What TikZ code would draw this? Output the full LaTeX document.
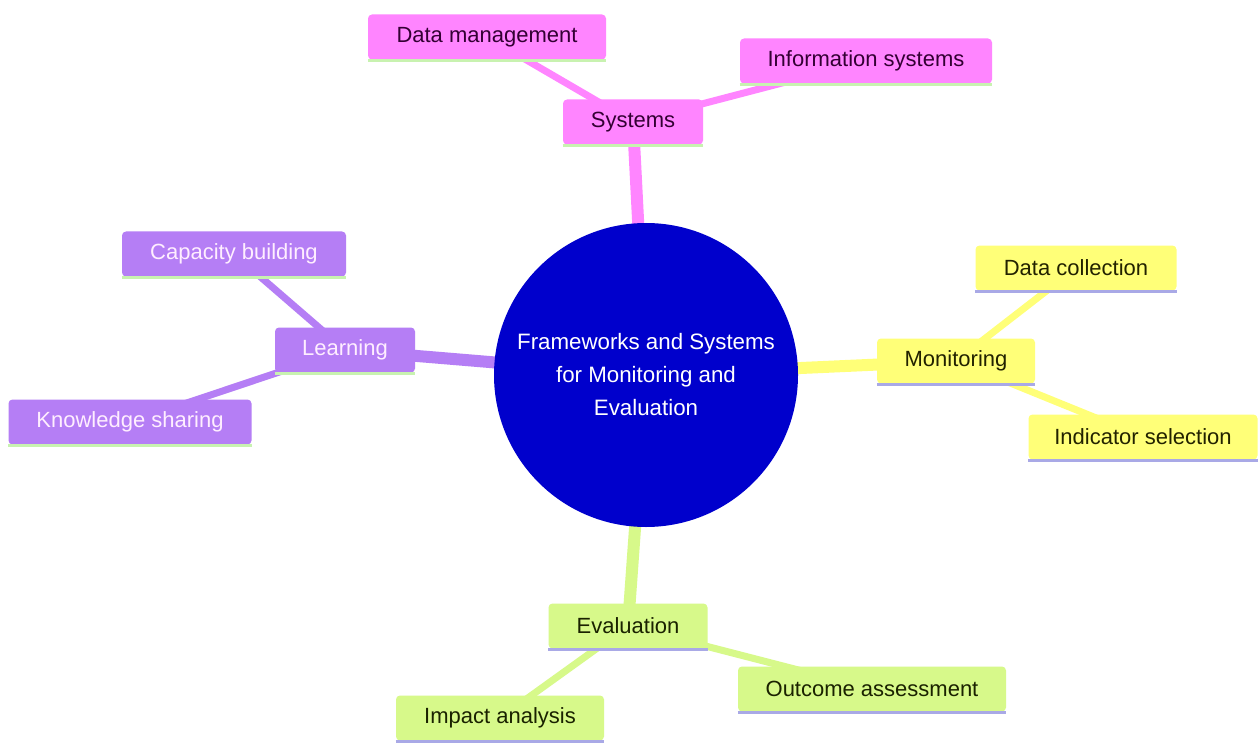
\documentclass[tikz,border=0pt]{standalone}
\usepackage{fontspec}
\setmainfont{Liberation Sans}
\pgfdeclarelayer{bottom}
\pgfdeclarelayer{background}
\pgfsetlayers{bottom,background,main}
\definecolor{pinkF}{HTML}{FF85FF}
\definecolor{pinkT}{HTML}{330033}
\definecolor{purpF}{HTML}{B57EF5}
\definecolor{purpT}{HTML}{FFEEFF}
\definecolor{yelF}{HTML}{FFFF78}
\definecolor{yelT}{HTML}{222200}
\definecolor{limF}{HTML}{D7F98A}
\definecolor{limT}{HTML}{1A2200}
\definecolor{ulGreen}{HTML}{C8F2B0}
\definecolor{ulLav}{HTML}{A9A9E6}
\definecolor{rootF}{HTML}{0000CC}
\tikzset{
  box/.style={rounded corners=4pt, minimum height=45pt, inner sep=0pt,
    font=\fontsize{22}{26}\selectfont},
  pinkbox/.style={box, fill=pinkF, text=pinkT},
  purpbox/.style={box, fill=purpF, text=purpT},
  yelbox/.style={box, fill=yelF, text=yelT},
  limbox/.style={box, fill=limF, text=limT},
  mainedge/.style={line width=12pt},
  subedge/.style={line width=7pt},
  ul/.style={line width=3pt}
}
\begin{document}
\begin{tikzpicture}[x=1pt,y=-1pt]
\begin{pgfonlayer}{bottom}
\fill[white] (0,0) rectangle (1258,746);
\end{pgfonlayer}
\useasboundingbox (0,0) rectangle (1258,746);
% root
\node[circle, fill=rootF, minimum size=304pt, text=white, align=center,
  font=\fontsize{22.3}{33}\selectfont] (root) at (646,375)
  {Frameworks and Systems\\for Monitoring and\\Evaluation};
% systems
\node[pinkbox, minimum width=140pt] (sys) at (633,122) {Systems};
\node[pinkbox, minimum width=238pt] (dm) at (487,37) {Data management};
\node[pinkbox, minimum width=252pt] (is) at (866,61) {Information systems};
% monitoring
\node[yelbox, minimum width=158pt] (mon) at (956,361) {Monitoring};
\node[yelbox, minimum width=201pt] (dc) at (1076,268) {Data collection};
\node[yelbox, minimum width=229pt] (ind) at (1143,437) {Indicator selection};
% learning
\node[purpbox, minimum width=140pt] (lea) at (345,350) {Learning};
\node[purpbox, minimum width=224pt] (cap) at (234,254) {Capacity building};
\node[purpbox, minimum width=243pt] (ks) at (130,422) {Knowledge sharing};
% evaluation
\node[limbox, minimum width=159pt] (eva) at (628,626) {Evaluation};
\node[limbox, minimum width=268pt] (out) at (872,689) {Outcome assessment};
\node[limbox, minimum width=208pt] (imp) at (500,718) {Impact analysis};
\begin{pgfonlayer}{background}
  \draw[mainedge, pinkF] (root.center) -- (sys.center);
  \draw[subedge, pinkF] (sys.center) -- (dm.center);
  \draw[subedge, pinkF] (sys.center) -- (is.center);
  \draw[mainedge, yelF] (root.center) -- (mon.center);
  \draw[subedge, yelF] (mon.center) -- (dc.center);
  \draw[subedge, yelF] (mon.center) -- (ind.center);
  \draw[mainedge, purpF] (root.center) -- (lea.center);
  \draw[subedge, purpF] (lea.center) -- (cap.center);
  \draw[subedge, purpF] (lea.center) -- (ks.center);
  \draw[mainedge, limF] (root.center) -- (eva.center);
  \draw[subedge, limF] (eva.center) -- (out.center);
  \draw[subedge, limF] (eva.center) -- (imp.center);
\end{pgfonlayer}
\foreach \n in {sys,dm,is,lea,cap,ks}
  \draw[ul, ulGreen] ([yshift=-1pt]\n.south west) -- ([yshift=-1pt]\n.south east);
\foreach \n in {mon,dc,ind,eva,out,imp}
  \draw[ul, ulLav] ([yshift=-1pt]\n.south west) -- ([yshift=-1pt]\n.south east);
\end{tikzpicture}
\end{document}
